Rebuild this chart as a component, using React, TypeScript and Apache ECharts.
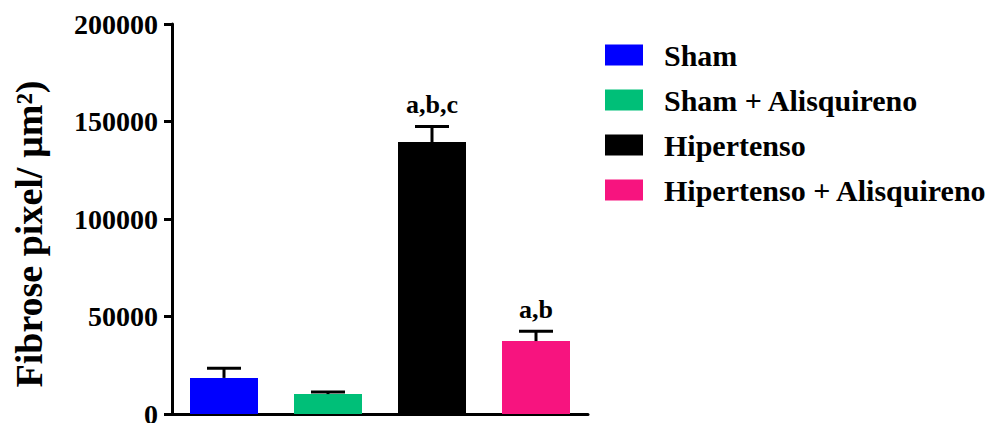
import React, { useEffect, useRef } from "react";
import * as echarts from "echarts";

// Groups, mean fibrosis values, upper error (SEM) and significance letters
const categories = ["Sham", "Sham + Alisquireno", "Hipertenso", "Hipertenso + Alisquireno"];
const means = [18500, 10200, 139500, 37400];
const errors = [5000, 1100, 8000, 5100];
const sigLabels = ["", "", "a,b,c", "a,b"];
const colors = ["#0000FF", "#00BF78", "#000000", "#F7147F"];
const yTicks = [0, 50000, 100000, 150000, 200000];

const FONT = "'Liberation Serif', 'Times New Roman', serif";

export default function App() {
  const ref = useRef<HTMLDivElement>(null);

  useEffect(() => {
    if (!ref.current) return;
    const chart = echarts.init(ref.current, undefined, { renderer: "svg" });

    const barSeries = categories.map((name, i) => ({
      name,
      type: "bar",
      data: categories.map((_, j) => (j === i ? means[i] : "-")),
      barWidth: 68,
      barGap: "-100%",
      itemStyle: { color: colors[i] },
      z: 2,
    }));

    const errorSeries = {
      type: "custom",
      name: "error",
      data: means.map((m, i) => [i, m, m + errors[i]]),
      z: 3,
      renderItem: (params: any, api: any) => {
        const idx = api.value(0);
        const base = api.coord([idx, api.value(1)]);
        const top = api.coord([idx, api.value(2)]);
        const half = 17;
        const children: any[] = [
          {
            type: "line",
            shape: { x1: base[0], y1: base[1], x2: top[0], y2: top[1] },
            style: { stroke: "#000", lineWidth: 3 },
          },
          {
            type: "line",
            shape: { x1: top[0] - half, y1: top[1], x2: top[0] + half, y2: top[1] },
            style: { stroke: "#000", lineWidth: 3 },
          },
        ];
        const label = sigLabels[idx];
        if (label) {
          children.push({
            type: "text",
            x: top[0],
            y: top[1] - 9,
            style: {
              text: label,
              fill: "#000",
              font: `bold 26px ${FONT}`,
              textAlign: "center",
              textVerticalAlign: "bottom",
            },
          });
        }
        return { type: "group", children };
      },
    };

    chart.setOption({
      animation: false,
      backgroundColor: "#fff",
      grid: {
        left: 172,
        right: 412,
        top: 24,
        bottom: 9,
        containLabel: false,
        outerBoundsMode: "none",
      },
      legend: {
        data: categories,
        orient: "vertical",
        left: 605,
        top: 40,
        padding: 0,
        icon: "rect",
        itemWidth: 38,
        itemHeight: 21,
        itemGap: 15,
        selectedMode: false,
        textStyle: {
          fontFamily: FONT,
          fontWeight: "bold",
          fontSize: 30,
          color: "#000",
          padding: [0, 0, 0, 16],
        },
      },
      xAxis: {
        type: "category",
        data: categories,
        axisLine: { show: true, lineStyle: { color: "#000", width: 3 } },
        axisTick: { show: false },
        axisLabel: { show: false },
        splitLine: { show: false },
      },
      yAxis: {
        type: "value",
        min: yTicks[0],
        max: yTicks[yTicks.length - 1],
        interval: 50000,
        name: "Fibrose pixel/ µm²)",
        nameLocation: "middle",
        nameRotate: 90,
        nameGap: 124,
        nameTextStyle: {
          fontFamily: FONT,
          fontWeight: "bold",
          fontSize: 38,
          color: "#000",
          padding: [0, 30, 0, 0],
        },
        axisLine: { show: true, lineStyle: { color: "#000", width: 3 } },
        axisTick: { show: true, inside: false, length: 8, lineStyle: { color: "#000", width: 3 } },
        axisLabel: {
          margin: 14,
          fontFamily: FONT,
          fontWeight: "bold",
          fontSize: 28,
          color: "#000",
          formatter: (v: number) => String(v),
        },
        splitLine: { show: false },
      },
      series: [...barSeries, errorSeries],
    });

    return () => chart.dispose();
  }, []);

  return (
    <div
      ref={ref}
      style={{ position: "absolute", left: 0, top: 0, width: 1000, height: 423 }}
    />
  );
}
